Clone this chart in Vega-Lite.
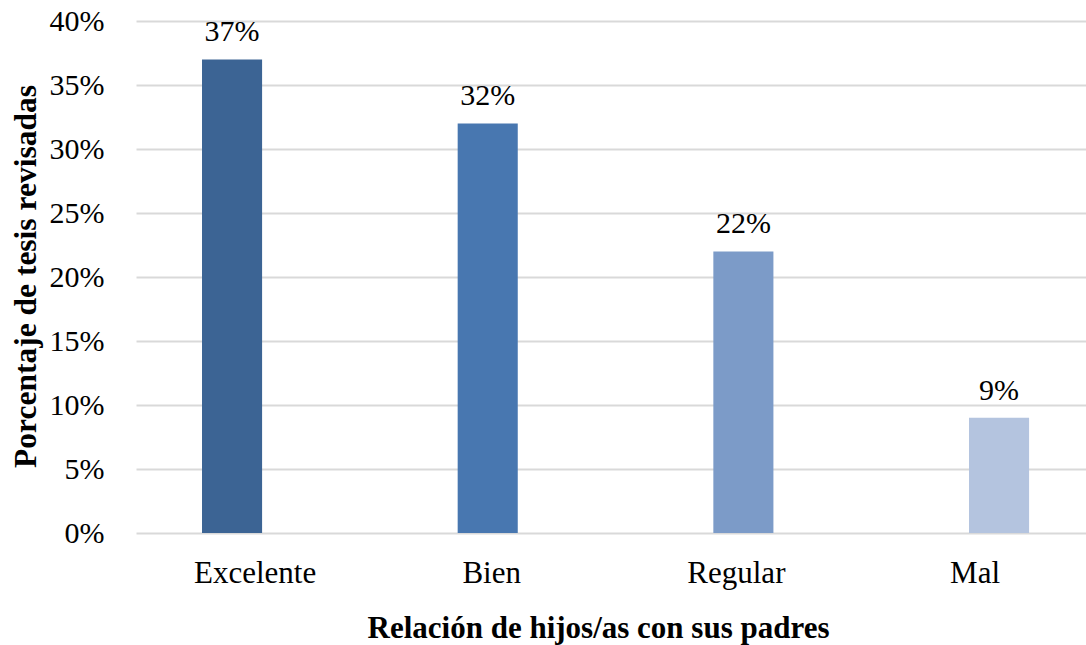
{
  "$schema": "https://vega.github.io/schema/vega-lite/v6.json",
  "width": 950,
  "height": 512,
  "autosize": {"type": "none"},
  "padding": {"left": 136, "top": 21, "right": 0, "bottom": 112},
  "background": "white",
  "config": {"view": {"stroke": null}, "font": "Liberation Serif"},
  "data": {"values": [
    {"cat": "Excelente", "v": 0.37},
    {"cat": "Bien", "v": 0.32},
    {"cat": "Regular", "v": 0.22},
    {"cat": "Mal", "v": 0.09}
  ]},
  "encoding": {
    "x": {
      "field": "cat", "type": "nominal", "sort": null,
      "scale": {"paddingInner": 0.765, "paddingOuter": 0.2404, "align": 0.537},
      "axis": {
        "title": "Relación de hijos/as con sus padres",
        "titleFont": "Liberation Serif", "titleFontSize": 31, "titleFontWeight": "bold", "titleColor": "#000000",
        "titleX": 462, "titleY": 104, "titleAlign": "center", "titleBaseline": "alphabetic",
        "labelFont": "Liberation Serif", "labelFontSize": 31, "labelColor": "#000000", "labelAngle": 0,
        "labelOffset": {"condition": [
          {"test": "datum.value === 'Excelente'", "value": 23},
          {"test": "datum.value === 'Bien'", "value": 4},
          {"test": "datum.value === 'Regular'", "value": -7}
        ], "value": -24},
        "labelPadding": 25, "ticks": false, "tickSize": 0, "domain": false, "grid": false
      }
    },
    "y": {
      "field": "v", "type": "quantitative",
      "scale": {"domain": [0, 0.4], "nice": false},
      "axis": {
        "title": "Porcentaje de tesis revisadas",
        "titleFont": "Liberation Serif", "titleFontSize": 31.5, "titleFontWeight": "bold", "titleColor": "#000000",
        "titleX": -101, "titleY": 255, "titleAngle": -90, "titleAlign": "center", "titleBaseline": "alphabetic",
        "values": [0, 0.05, 0.1, 0.15, 0.2, 0.25, 0.3, 0.35, 0.4], "format": ".0%",
        "labelFont": "Liberation Serif", "labelFontSize": 30, "labelColor": "#000000",
        "labelPadding": 32, "ticks": false, "tickSize": 0, "domain": false,
        "grid": true, "gridColor": "#d9d9d9", "gridWidth": 2
      }
    }
  },
  "layer": [
    {
      "mark": {"type": "bar"},
      "encoding": {
        "color": {
          "field": "cat", "type": "nominal", "legend": null,
          "scale": {"domain": ["Excelente", "Bien", "Regular", "Mal"], "range": ["#3c6494", "#4877b0", "#7c9bc8", "#b4c4df"]}
        }
      }
    },
    {
      "mark": {"type": "text", "baseline": "alphabetic", "dy": -18, "font": "Liberation Serif", "fontSize": 30, "color": "#000000"},
      "encoding": {"text": {"field": "v", "type": "quantitative", "format": ".0%"}}
    }
  ]
}
